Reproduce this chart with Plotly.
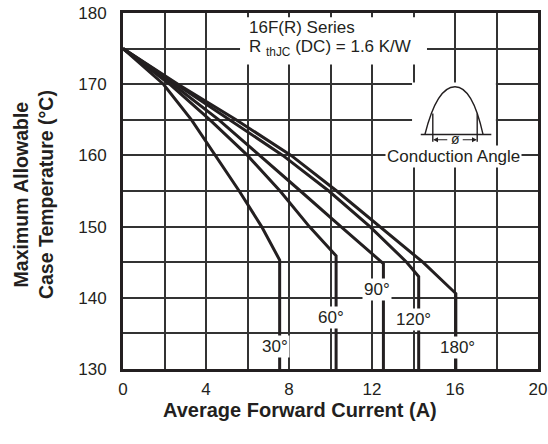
import plotly.graph_objects as go

# conduction angle curves: average forward current (A) vs max case temperature (degC)
angles = ["30°", "60°", "90°", "120°", "180°"]

current_30 = [0, 1.95, 3.3, 4.45, 5.6, 6.68, 7.55, 7.55]
temp_30 = [175, 170, 165, 160, 155, 150, 145.3, 130]

current_60 = [0, 2.25, 4.19, 6.0, 7.57, 8.98, 10.27, 10.27]
temp_60 = [175, 170, 165, 160, 155, 150, 145.9, 130]

current_90 = [0, 2.4, 4.62, 6.6, 8.55, 10.5, 12.55, 12.55]
temp_90 = [175, 170, 165, 160, 155, 150, 144.8, 130]

current_120 = [0, 2.55, 5.15, 7.7, 9.92, 11.9, 13.67, 14.25, 14.25]
temp_120 = [175, 170, 165, 160, 155, 150, 145, 143.0, 130]

current_180 = [0, 2.65, 5.45, 8.1, 10.3, 12.4, 14.45, 16.04, 16.04]
temp_180 = [175, 170, 165, 160, 155, 150, 145, 140.6, 130]

# label positions for each curve (x, y in data units)
label_x = [7.33, 10.0, 12.24, 14.02, 16.1]
label_y = [133.2, 137.2, 141.1, 136.9, 133.0]

x_ticks = [0, 4, 8, 12, 16, 20]
y_ticks = [130, 140, 150, 160, 170, 180]

FONT = "Liberation Sans, Arial, Helvetica, sans-serif"
INK = "#231f20"

fig = go.Figure()

series = [
    (current_30, temp_30),
    (current_60, temp_60),
    (current_90, temp_90),
    (current_120, temp_120),
    (current_180, temp_180),
]
for name, (xs, ys) in zip(angles, series):
    fig.add_trace(go.Scatter(
        x=xs, y=ys, mode="lines", name=name,
        line=dict(color=INK, width=3),
        showlegend=False, hoverinfo="skip",
    ))

# angle labels with white boxes that break the lines behind them
for name, lx, ly in zip(angles, label_x, label_y):
    fig.add_annotation(
        x=lx, y=ly, text=name, showarrow=False,
        font=dict(family=FONT, size=17, color=INK),
        bgcolor="white", borderpad=1,
    )

# white area behind the header text
fig.add_shape(type="rect", x0=5.64, x1=14.65, y0=172.75, y1=179.4,
              fillcolor="white", line_width=0, layer="between")
fig.add_annotation(
    x=5.98, y=177.9, xanchor="left", text="16F(R) Series", showarrow=False,
    font=dict(family=FONT, size=17, color=INK),
)
fig.add_annotation(
    x=5.98, y=175.1, xanchor="left",
    text="R <sub>thJC</sub> (DC) = 1.6 K/W", showarrow=False,
    font=dict(family=FONT, size=17, color=INK),
)

# conduction angle icon
fig.add_shape(type="rect", x0=13.93, x1=17.97, y0=158.5, y1=170.25,
              fillcolor="white", line_width=0, layer="between")
icon_line = dict(color=INK, width=1.4)
fig.add_shape(type="line", x0=14.35, x1=17.75, y0=162.94, y1=162.94,
              line=icon_line, layer="above")
fig.add_shape(
    type="path",
    path="M 14.55,162.94 C 14.95,167.6 15.45,169.65 16.0,169.65 "
         "C 16.55,169.65 17.0,167.6 17.35,162.94",
    line=icon_line, layer="above",
)
for vx in [14.93, 17.07]:
    fig.add_shape(type="line", x0=vx, x1=vx, y0=161.9, y1=165.9,
                  line=icon_line, layer="above")
for tip, tail in [(14.95, 15.7), (17.05, 16.3)]:
    fig.add_annotation(
        x=tip, y=162.2, ax=tail, ay=162.2, axref="x", ayref="y",
        xref="x", yref="y", text="", showarrow=True,
        arrowhead=2, arrowsize=0.8, arrowwidth=1.2, arrowcolor=INK,
    )
fig.add_annotation(
    x=16.0, y=162.3, text="ø", showarrow=False,
    font=dict(family=FONT, size=14, color=INK),
)
fig.add_annotation(
    x=15.95, y=159.9, text="Conduction Angle", showarrow=False,
    font=dict(family=FONT, size=17, color=INK),
    bgcolor="white", borderpad=1,
)

# axis titles
fig.add_annotation(
    xref="paper", yref="paper", x=-0.277, y=0.49,
    text="<b>Maximum Allowable<br>Case Temperature (°C)</b>",
    textangle=-90, showarrow=False,
    font=dict(family=FONT, size=19.5, color=INK),
)
fig.add_annotation(
    xref="paper", yref="paper", x=0.4265, y=-0.152,
    text="<b>Average Forward Current (A)</b>", showarrow=False,
    font=dict(family=FONT, size=20, color=INK),
)

grid_color = "#333333"
fig.update_xaxes(
    range=[0, 20], tickvals=x_ticks, showgrid=True,
    gridcolor=grid_color, gridwidth=1.5,
    minor=dict(dtick=2, showgrid=True, gridcolor=grid_color, gridwidth=1.5),
    showline=True, linecolor=INK, linewidth=3, mirror=True,
    zeroline=False, ticks="", ticklabelstandoff=3, automargin=False,
    ticklabeloverflow="allow",
    tickfont=dict(family=FONT, size=17, color=INK),
)
fig.update_yaxes(
    range=[130, 180], tickvals=y_ticks, showgrid=True,
    gridcolor=grid_color, gridwidth=1.5,
    minor=dict(dtick=5, showgrid=True, gridcolor=grid_color, gridwidth=1.5),
    showline=True, linecolor=INK, linewidth=3, mirror=True,
    zeroline=False, ticks="", ticklabelstandoff=10, automargin=False,
    ticklabeloverflow="allow",
    tickfont=dict(family=FONT, size=17, color=INK),
)

fig.update_layout(
    width=548, height=444,
    margin=dict(l=123, r=10, t=13, b=75),
    plot_bgcolor="white", paper_bgcolor="white",
)

# drop the browser's default 8px body margin so the figure fills the window
fig.write_html(
    "out.html",
    config={"displayModeBar": False},
    post_script="document.body.style.margin = '0';",
)
